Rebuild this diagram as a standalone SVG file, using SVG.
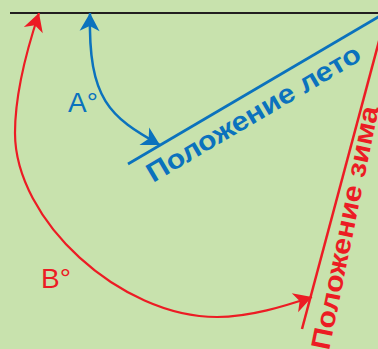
<svg xmlns="http://www.w3.org/2000/svg" width="378" height="349" viewBox="0 0 378 349">
  <style>
    .bg { fill: #c8e2ad; }
    .blue { stroke: #0b72bd; fill: none; }
    .red { stroke: #ec1c24; fill: none; }
    .lbl { font-family: "Liberation Sans", Arial, sans-serif; font-size: 28px; }
    .pos { font-family: "Liberation Sans", Arial, sans-serif; font-size: 27px; font-weight: bold; }
  </style>
  <defs>
    <marker id="arrB" markerUnits="userSpaceOnUse" markerWidth="24" markerHeight="24" viewBox="-20 -12 22 24" refX="0" refY="0" orient="auto-start-reverse">
      <path d="M0,0 L-18,-10 L-13,0 L-18,10 Z" fill="#0b72bd"/>
    </marker>
    <marker id="arrR" markerUnits="userSpaceOnUse" markerWidth="24" markerHeight="24" viewBox="-20 -12 22 24" refX="0" refY="0" orient="auto-start-reverse">
      <path d="M0,0 L-18,-10 L-13,0 L-18,10 Z" fill="#ec1c24"/>
    </marker>
  </defs>
  <rect class="bg" x="0" y="0" width="378" height="349"/>

  <g id="horizon">
    <line x1="10" y1="13" x2="378" y2="13" stroke="#231f20" stroke-width="2"/>
  </g>

  <g id="summer-position">
    <line class="blue" x1="385" y1="13" x2="128" y2="164" stroke-width="2.7"/>
    <text class="pos" fill="#0b72bd" transform="translate(153,183) rotate(-30.5)" textLength="244" lengthAdjust="spacingAndGlyphs">Положение лето</text>
  </g>

  <g id="winter-position">
    <line class="red" x1="386.5" y1="13" x2="302" y2="329" stroke-width="2.5"/>
    <text class="pos" fill="#ec1c24" transform="translate(329,351) rotate(-78.4)" textLength="248" lengthAdjust="spacingAndGlyphs">Положение зима</text>
  </g>

  <g id="connectors">
    <path class="blue" stroke-width="2.5" d="M90,13 C88,100 110,117 160,145" marker-start="url(#arrB)" marker-end="url(#arrB)"/>
    <path class="red" stroke-width="2.2" d="M39,13 C26,52 15,95 15,133 C15,220 120,317 217,317 C250,317 285,306 312,297" marker-start="url(#arrR)" marker-end="url(#arrR)"/>
  </g>

  <g id="angle-A">
    <text class="lbl" fill="#0b72bd" x="68" y="112">A°</text>
  </g>
  <g id="angle-B">
    <text class="lbl" fill="#ec1c24" x="41" y="288">B°</text>
  </g>
</svg>
